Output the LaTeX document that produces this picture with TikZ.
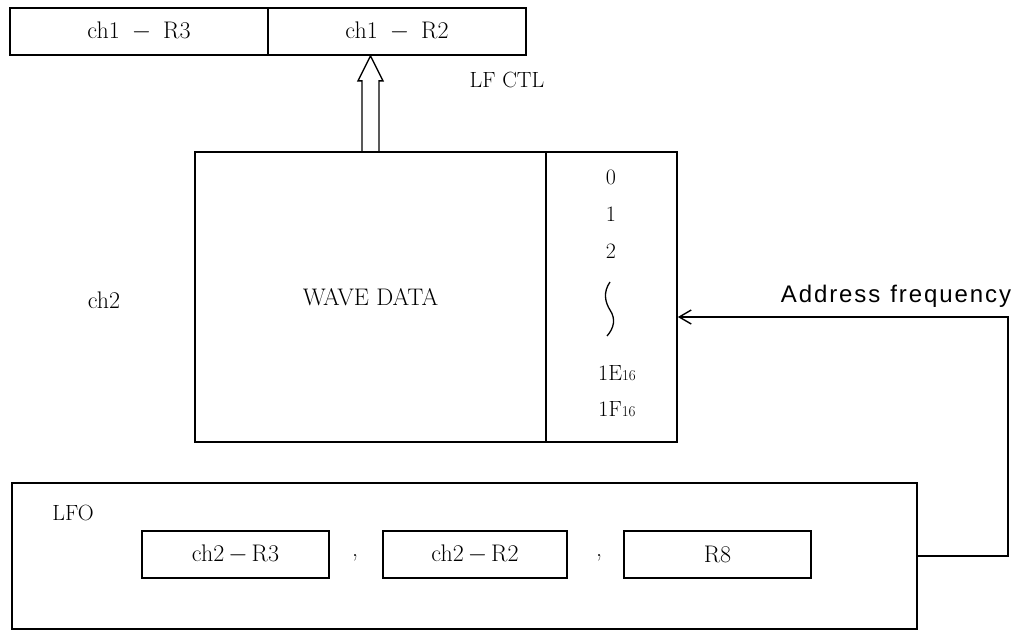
\documentclass[tikz,border=0pt]{standalone}
\usepackage{fontspec}
\usepackage{tikz}
\usetikzlibrary{arrows.meta}
\newfontfamily\addrfont{Liberation Sans}[LetterSpace=8]
\tikzset{
  regbox/.style={draw, line width=1.7pt, inner sep=0pt, font=\fontsize{24}{28}\selectfont},
  txt/.style={inner sep=0pt, font=\fontsize{24}{28}\selectfont},
  coltxt/.style={inner sep=0pt, font=\fontsize{22}{26}\selectfont},
}
\newcommand{\hexsub}[1]{{\fontsize{15}{18}\selectfont #1}}

\begin{document}
\begin{tikzpicture}[x=1pt, y=-1pt, line width=1.7pt]
\useasboundingbox (0,0) rectangle (1030,631);

\node[regbox, minimum width=258pt, minimum height=47pt] (r3) at (139,31.5) {ch1\enspace$-$\enspace R3};
\node[regbox, minimum width=258pt, minimum height=47pt] (r2) at (397,31.5) {ch1\enspace$-$\enspace R2};

\node[regbox, minimum width=351pt, minimum height=290pt] (wave) at (370.5,297) {WAVE DATA};
\node[regbox, minimum width=131pt, minimum height=290pt] (addr) at (611.5,297) {};
\node[coltxt] (n0) at (611,177) {0};
\node[coltxt] (n1) at (611,214) {1};
\node[coltxt] (n2) at (611,251) {2};
\node[coltxt] (n1e) at (617,373) {1E\hexsub{16}};
\node[coltxt] (n1f) at (617,409) {1F\hexsub{16}};
\draw[line width=1.3pt] (610,282) .. controls (603,292) and (605,302) .. (610,310)
  .. controls (616,319) and (614,328) .. (607,336);

\node[txt] (ch2) at (104,300) {ch2};
\node[coltxt] (lfctl) at (507,80) {LF CTL};
\node[inner sep=0pt, font=\addrfont\fontsize{24}{28}\selectfont] (afreq) at (896,296) {Address\hspace{10pt}frequency};

\node[regbox, minimum width=905pt, minimum height=146pt] (lfo) at (464.5,556) {};
\node[coltxt] (lfolbl) at (73,513) {LFO};
\node[regbox, minimum width=187pt, minimum height=47pt] (i3) at (235.5,554.5) {ch2\,$-$\,R3};
\node[txt] (c1) at (355,558) {,};
\node[regbox, minimum width=184pt, minimum height=47pt] (i2) at (475,554.5) {ch2\,$-$\,R2};
\node[txt] (c2) at (599,558) {,};
\node[regbox, minimum width=187pt, minimum height=47pt] (i8) at (717.5,554.5) {R8};

\coordinate (tip) at (wave.north |- r2.south);
\draw[line width=1.4pt] ([xshift=-8.5pt]wave.north) -- ([xshift=-8.5pt,yshift=-25pt]tip)
  -- ([xshift=-12.5pt,yshift=-25pt]tip) -- (tip) -- ([xshift=12.5pt,yshift=-25pt]tip)
  -- ([xshift=8.5pt,yshift=-25pt]tip) -- ([xshift=8.5pt]wave.north);

\coordinate (turn) at (1008,317);
\draw[line width=1.4pt, -{Straight Barb[length=12pt,width=14pt]}] (lfo.east) -| (turn) -- (turn -| addr.east);
\end{tikzpicture}
\end{document}
